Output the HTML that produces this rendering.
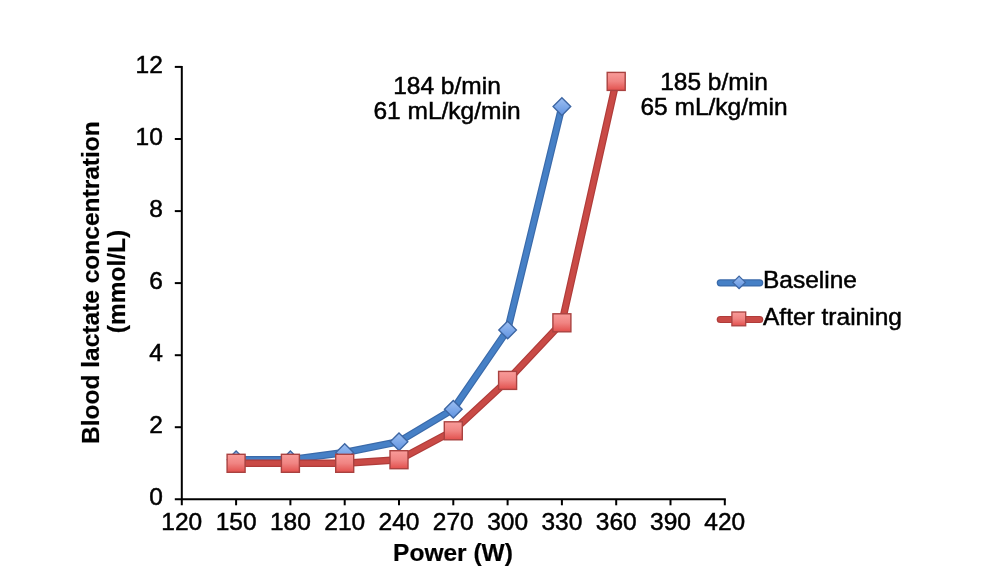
<!DOCTYPE html><html><head><meta charset="utf-8"><style>html,body{margin:0;padding:0;background:#fff;width:1000px;height:577px;overflow:hidden}svg{display:block}text{font-family:"Liberation Sans",Arial,Helvetica,sans-serif;fill:#000;stroke:#000;stroke-width:0.5px}text[font-weight=bold]{stroke-width:0.2px}</style></head><body>
<svg width="1000" height="577" viewBox="0 0 1000 577">
<defs><linearGradient id="gr" x1="0" y1="0" x2="0" y2="1"><stop offset="0" stop-color="#f99c9a"/><stop offset="0.5" stop-color="#f08482"/><stop offset="1" stop-color="#e2504d"/></linearGradient><linearGradient id="gb" x1="0" y1="0" x2="0" y2="1"><stop offset="0" stop-color="#9ec0f2"/><stop offset="1" stop-color="#5f92e0"/></linearGradient></defs>
<g stroke="#000" stroke-width="2" fill="none">
<line x1="181.8" y1="65.94" x2="181.8" y2="505.3"/>
<line x1="174.8" y1="499.3" x2="725.8" y2="499.3"/>
<line x1="174.8" y1="427.2" x2="181.8" y2="427.2"/>
<line x1="174.8" y1="355.2" x2="181.8" y2="355.2"/>
<line x1="174.8" y1="283.1" x2="181.8" y2="283.1"/>
<line x1="174.8" y1="211.1" x2="181.8" y2="211.1"/>
<line x1="174.8" y1="139.0" x2="181.8" y2="139.0"/>
<line x1="174.8" y1="66.9" x2="181.8" y2="66.9"/>
<line x1="236.1" y1="499.3" x2="236.1" y2="505.3"/>
<line x1="290.4" y1="499.3" x2="290.4" y2="505.3"/>
<line x1="344.7" y1="499.3" x2="344.7" y2="505.3"/>
<line x1="399.0" y1="499.3" x2="399.0" y2="505.3"/>
<line x1="453.3" y1="499.3" x2="453.3" y2="505.3"/>
<line x1="507.6" y1="499.3" x2="507.6" y2="505.3"/>
<line x1="561.9" y1="499.3" x2="561.9" y2="505.3"/>
<line x1="616.2" y1="499.3" x2="616.2" y2="505.3"/>
<line x1="670.5" y1="499.3" x2="670.5" y2="505.3"/>
<line x1="724.8" y1="499.3" x2="724.8" y2="505.3"/>
</g>
<text x="162.8" y="505.1" font-size="24.5" text-anchor="end">0</text>
<text x="162.8" y="433.0" font-size="24.5" text-anchor="end">2</text>
<text x="162.8" y="361.0" font-size="24.5" text-anchor="end">4</text>
<text x="162.8" y="288.9" font-size="24.5" text-anchor="end">6</text>
<text x="162.8" y="216.9" font-size="24.5" text-anchor="end">8</text>
<text x="162.8" y="144.8" font-size="24.5" text-anchor="end">10</text>
<text x="162.8" y="72.7" font-size="24.5" text-anchor="end">12</text>
<text x="181.8" y="530.4" font-size="24.5" text-anchor="middle">120</text>
<text x="236.1" y="530.4" font-size="24.5" text-anchor="middle">150</text>
<text x="290.4" y="530.4" font-size="24.5" text-anchor="middle">180</text>
<text x="344.7" y="530.4" font-size="24.5" text-anchor="middle">210</text>
<text x="399.0" y="530.4" font-size="24.5" text-anchor="middle">240</text>
<text x="453.3" y="530.4" font-size="24.5" text-anchor="middle">270</text>
<text x="507.6" y="530.4" font-size="24.5" text-anchor="middle">300</text>
<text x="561.9" y="530.4" font-size="24.5" text-anchor="middle">330</text>
<text x="616.2" y="530.4" font-size="24.5" text-anchor="middle">360</text>
<text x="670.5" y="530.4" font-size="24.5" text-anchor="middle">390</text>
<text x="724.8" y="530.4" font-size="24.5" text-anchor="middle">420</text>
<polyline points="236.1,459.7 290.4,459.7 344.7,452.5 399.0,441.7 453.3,409.2 507.6,330.0 561.9,106.6" fill="none" stroke="#3a6aaa" stroke-width="7.4" stroke-linejoin="round"/>
<polyline points="236.1,459.7 290.4,459.7 344.7,452.5 399.0,441.7 453.3,409.2 507.6,330.0 561.9,106.6" fill="none" stroke="#4680c6" stroke-width="5.0" stroke-linejoin="round"/>
<polyline points="236.1,463.3 290.4,463.3 344.7,463.3 399.0,459.7 453.3,430.8 507.6,380.4 561.9,322.8 616.2,81.4" fill="none" stroke="#b03c3a" stroke-width="7.4" stroke-linejoin="round"/>
<polyline points="236.1,463.3 290.4,463.3 344.7,463.3 399.0,459.7 453.3,430.8 507.6,380.4 561.9,322.8 616.2,81.4" fill="none" stroke="#c94a46" stroke-width="5.0" stroke-linejoin="round"/>
<path d="M236.1,450.9 L244.9,459.7 L236.1,468.5 L227.3,459.7Z" fill="url(#gb)" stroke="#3d66a3" stroke-width="1.4"/>
<path d="M290.4,450.9 L299.2,459.7 L290.4,468.5 L281.6,459.7Z" fill="url(#gb)" stroke="#3d66a3" stroke-width="1.4"/>
<path d="M344.7,443.7 L353.5,452.5 L344.7,461.3 L335.9,452.5Z" fill="url(#gb)" stroke="#3d66a3" stroke-width="1.4"/>
<path d="M399.0,432.9 L407.8,441.7 L399.0,450.5 L390.2,441.7Z" fill="url(#gb)" stroke="#3d66a3" stroke-width="1.4"/>
<path d="M453.3,400.4 L462.1,409.2 L453.3,418.0 L444.5,409.2Z" fill="url(#gb)" stroke="#3d66a3" stroke-width="1.4"/>
<path d="M507.6,321.2 L516.4,330.0 L507.6,338.8 L498.8,330.0Z" fill="url(#gb)" stroke="#3d66a3" stroke-width="1.4"/>
<path d="M561.9,97.8 L570.7,106.6 L561.9,115.4 L553.1,106.6Z" fill="url(#gb)" stroke="#3d66a3" stroke-width="1.4"/>
<rect x="227.1" y="454.3" width="18.0" height="18.0" fill="url(#gr)" stroke="#a94240" stroke-width="1.4"/>
<rect x="281.4" y="454.3" width="18.0" height="18.0" fill="url(#gr)" stroke="#a94240" stroke-width="1.4"/>
<rect x="335.7" y="454.3" width="18.0" height="18.0" fill="url(#gr)" stroke="#a94240" stroke-width="1.4"/>
<rect x="390.0" y="450.7" width="18.0" height="18.0" fill="url(#gr)" stroke="#a94240" stroke-width="1.4"/>
<rect x="444.3" y="421.8" width="18.0" height="18.0" fill="url(#gr)" stroke="#a94240" stroke-width="1.4"/>
<rect x="498.6" y="371.4" width="18.0" height="18.0" fill="url(#gr)" stroke="#a94240" stroke-width="1.4"/>
<rect x="552.9" y="313.8" width="18.0" height="18.0" fill="url(#gr)" stroke="#a94240" stroke-width="1.4"/>
<rect x="607.2" y="72.4" width="18.0" height="18.0" fill="url(#gr)" stroke="#a94240" stroke-width="1.4"/>
<text x="447" y="94" font-size="24.5" text-anchor="middle">184 b/min</text>
<text x="447" y="119.4" font-size="24.5" text-anchor="middle">61 mL/kg/min</text>
<text x="714" y="90.4" font-size="24.5" text-anchor="middle">185 b/min</text>
<text x="714" y="115.4" font-size="24.5" text-anchor="middle">65 mL/kg/min</text>
<line x1="720.3" y1="282.8" x2="759.7" y2="282.8" stroke="#3a6aaa" stroke-width="7.2" stroke-linecap="round"/>
<line x1="720.3" y1="282.8" x2="759.7" y2="282.8" stroke="#4680c6" stroke-width="4.8" stroke-linecap="round"/>
<path d="M739.1,276.1 L745.4,282.4 L739.1,288.7 L732.8,282.4Z" fill="url(#gb)" stroke="#3d66a3" stroke-width="1.3"/>
<line x1="720.3" y1="319.5" x2="759.7" y2="319.5" stroke="#b03c3a" stroke-width="7.2" stroke-linecap="round"/>
<line x1="720.3" y1="319.5" x2="759.7" y2="319.5" stroke="#c94a46" stroke-width="4.8" stroke-linecap="round"/>
<rect x="731.9" y="312" width="13.8" height="13.8" fill="url(#gr)" stroke="#a94240" stroke-width="1.3"/>
<text x="763" y="288.2" font-size="24.5">Baseline</text>
<text x="763" y="325.2" font-size="24.5">After training</text>
<text x="453" y="561" font-size="24.5" font-weight="bold" text-anchor="middle">Power (W)</text>
<text transform="translate(98.7,282.6) rotate(-90)" font-size="24.5" font-weight="bold" text-anchor="middle">Blood lactate concentration</text>
<text transform="translate(124.5,281.5) rotate(-90)" font-size="24.5" font-weight="bold" text-anchor="middle">(mmol/L)</text>
</svg></body></html>
